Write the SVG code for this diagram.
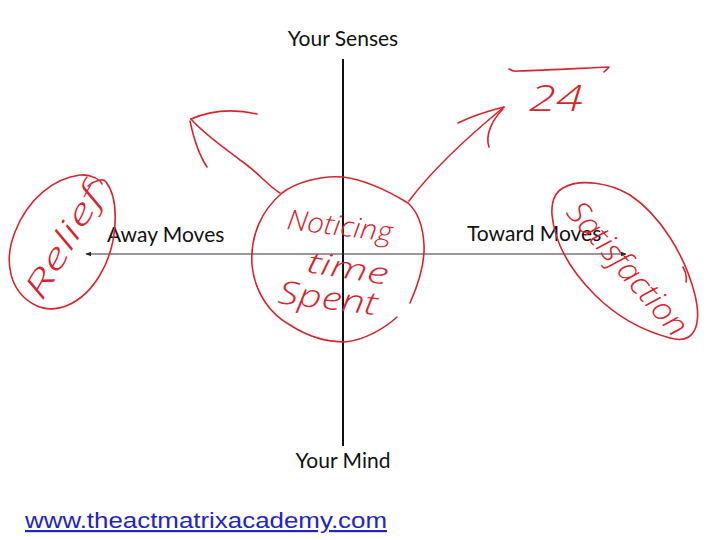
<svg xmlns="http://www.w3.org/2000/svg" width="720" height="540" viewBox="0 0 720 540">
<defs>
<style>
.lbl{font-family:Lato,"Open Sans","DejaVu Sans",sans-serif;font-size:21px;fill:#111}
.hand{font-family:"Open Sans","DejaVu Sans",sans-serif;font-style:italic;font-weight:300;fill:#d9232e}
.ink{fill:none;stroke:#d9232e;stroke-width:1.6;stroke-linecap:round;stroke-linejoin:round}
.url{font-family:"Liberation Sans",Arial,sans-serif;font-size:22px;fill:#2323c8;text-decoration:underline}
</style>
<marker id="ah" viewBox="0 0 10 10" refX="9" refY="5" markerWidth="5" markerHeight="5" orient="auto-start-reverse">
<path d="M0,1 L10,5 L0,9 z" fill="#222"/>
</marker>
</defs>
<rect width="720" height="540" fill="#fff"/>
<g id="connectors">
<line x1="343" y1="59" x2="343" y2="446" stroke="#111" stroke-width="2"/>
<line x1="86" y1="254" x2="626" y2="254" stroke="#333" stroke-width="1.2" marker-start="url(#ah)" marker-end="url(#ah)"/>
<path class="ink" d="M280,193 C268,186 258,172 240,160 C222,146 204,134 191,119"/>
<path class="ink" d="M191,119 C212,110 235,109 257,114"/>
<path class="ink" d="M190,121 C194,140 199,155 207,167"/>
<path class="ink" d="M409,201 C432,170 470,135 504,107"/>
<path class="ink" d="M504,107 C488,111 472,116 458,123"/>
<path class="ink" d="M503,109 C492,120 485,135 489,147"/>
<path class="ink" d="M509,69 C512,71 514,72 518,71 C550,70 585,68 609,67 C608,69 606,70 604,72"/>
</g>
<g id="senses"><text class="lbl" x="343" y="46" text-anchor="middle">Your Senses</text></g>
<g id="mind"><text class="lbl" x="343" y="468" text-anchor="middle">Your Mind</text></g>
<g id="away"><text class="lbl" x="107" y="242">Away Moves</text></g>
<g id="toward"><text class="lbl" x="467" y="241">Toward Moves</text></g>
<g id="relief">
<path class="ink" d="M88,186 C95,180 104,178 106,182 C120,200 118,245 100,275 C82,305 55,315 35,305 C10,292 3,262 15,232 C28,198 55,178 80,175 C92,174 100,180 102,184"/>
<text class="hand" font-size="32" transform="translate(42,302) rotate(-60)" textLength="124" lengthAdjust="spacingAndGlyphs">Relief</text>
</g>
<g id="satisfaction">
<path class="ink" d="M563,188 C580,178 610,183 630,195 C660,215 685,255 695,295 C702,325 695,345 670,338 C640,330 615,315 595,295 C570,270 555,245 552,215 C551,200 556,192 563,188 M683,267 C686,272 687,277 686,282"/>
<text class="hand" font-size="32" transform="translate(565,213) rotate(49)" textLength="166" lengthAdjust="spacingAndGlyphs">Satisfaction</text>
</g>
<g id="center">
<path class="ink" d="M410,303 C418,285 425,265 424,245 C423,225 418,212 408,203 C390,192 365,180 343,177 C320,175 295,183 282,193 C262,210 250,235 252,265 C255,295 272,315 290,325 C310,338 330,342 345,342 C365,340 385,328 397,317"/>
<text class="hand" font-size="28" transform="translate(286,229) rotate(7)" textLength="106" lengthAdjust="spacingAndGlyphs">Noticing</text>
<text class="hand" font-size="30" transform="translate(306,272) rotate(9)" textLength="82" lengthAdjust="spacingAndGlyphs">time</text>
<text class="hand" font-size="32" transform="translate(277,303) rotate(7)" textLength="100" lengthAdjust="spacingAndGlyphs">Spent</text>
</g>
<g id="hours"><text class="hand" font-size="36" x="529" y="111" textLength="54" lengthAdjust="spacingAndGlyphs">24</text></g>
<g id="website"><text class="url" x="25" y="528" textLength="362" lengthAdjust="spacingAndGlyphs">www.theactmatrixacademy.com</text></g>
</svg>
